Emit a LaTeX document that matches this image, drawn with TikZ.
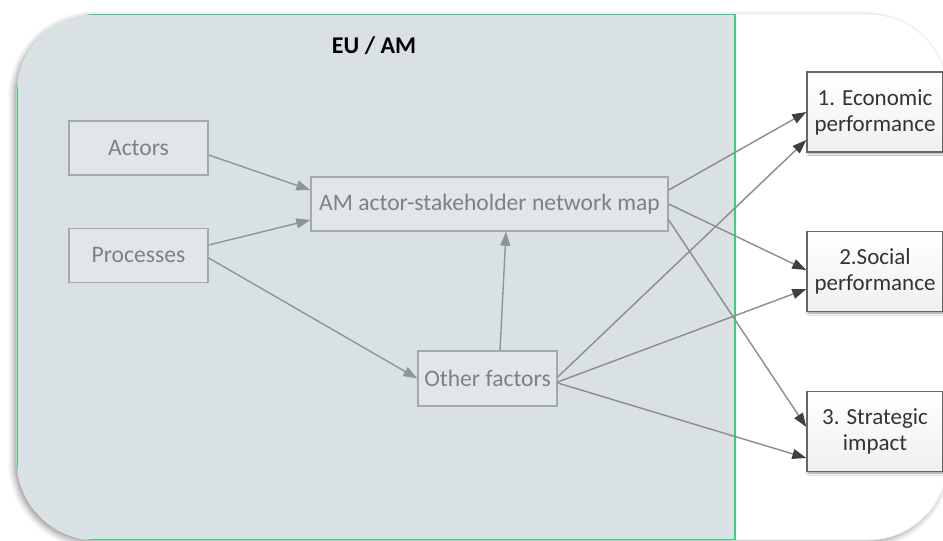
\documentclass[tikz,border=0pt]{standalone}
\usepackage{fontspec}
\setmainfont{Carlito}
\usetikzlibrary{arrows.meta,shadows.blur}
\definecolor{panelfill}{HTML}{D9E1E4}
\definecolor{panelline}{HTML}{3CCF80}
\definecolor{boxline}{HTML}{A3AAAD}
\definecolor{boxtext}{HTML}{7B8285}
\definecolor{linkgray}{HTML}{8E9598}
\definecolor{outgray}{HTML}{8C8C8C}
\definecolor{outhead}{HTML}{404040}
\tikzset{
  inbox/.style={draw=boxline, line width=0.7pt, fill=panelfill!80!white,
    text=boxtext, font=\fontsize{11.8}{14}\selectfont,
    minimum width=69.5pt, minimum height=27pt, inner sep=2pt},
  outbox/.style={draw=outhead!80, line width=0.7pt, top color=white, bottom color=gray!12,
    text=black!80, font=\fontsize{11.5}{13}\selectfont, align=center,
    minimum width=68pt, minimum height=40pt, inner sep=2pt,
    blur shadow={shadow xshift=0.8pt, shadow yshift=-0.8pt, shadow blur radius=1pt}},
  inlink/.style={draw=linkgray, line width=0.7pt,
    -{Triangle[length=7pt,width=5pt,fill=linkgray]}},
  outlink/.style={draw=outgray, line width=0.7pt,
    -{Triangle[length=7pt,width=5pt,fill=outhead,color=outhead]}}
}

\begin{document}
\begin{tikzpicture}[x=0.5pt, y=-0.5pt]
  \useasboundingbox (0,0) rectangle (943,541);

  % The frame
  \path[fill=white, draw=gray!15, rounded corners=40pt,
    blur shadow={shadow xshift=-1.5pt, shadow yshift=-1.5pt, shadow blur radius=3pt}]
    (17,14) rectangle (948,540);
  \begin{scope}
    \clip[rounded corners=40pt] (17,14) rectangle (948,540);
    \fill[panelfill] (17,14) rectangle (735,540);
    \draw[panelline, line width=1pt] (17,14) rectangle (735,540);
  \end{scope}
  \node[font=\bfseries\fontsize{12}{14}\selectfont] (title) at (374,46) {EU / AM};

  % Inside EU / AM
  \node[inbox] (actors) at (138.5,148) {Actors};
  \node[inbox] (processes) at (138.5,255.5) {Processes};
  \node[inbox, minimum width=178.5pt] (netmap) at (489.5,204) {AM actor-stakeholder network map};
  \node[inbox, minimum height=27.5pt] (other) at (487.5,378.5) {Other factors};

  % The outcomes
  \node[outbox] (econ) at (875,112) {1. Economic\\performance};
  \node[outbox] (social) at (875,271.5) {2.Social\\performance};
  \node[outbox] (strat) at (875,431.5) {3. Strategic\\impact};

  % Links
  \draw[inlink] ([yshift=-3.5pt]actors.east) -- ([yshift=7pt]netmap.west);
  \draw[inlink] ([yshift=5.25pt]processes.east) -- ([yshift=-8pt]netmap.west);
  \draw[inlink] ([yshift=-1.25pt]processes.east) -- (other.west);
  \draw[inlink] ([xshift=6.25pt]other.north) -- ([xshift=8.25pt]netmap.south);

  \draw[outlink] ([yshift=7pt]netmap.east) -- (econ.west);
  \draw[outlink] (netmap.east) -- ([yshift=0.75pt]social.west);
  \draw[outlink] ([yshift=-8pt]netmap.east) -- ([yshift=2.25pt]strat.west);
  \draw[outlink] ([yshift=0.75pt]other.east) -- ([yshift=-14pt]econ.west);
  \draw[outlink] ([yshift=-1.75pt]other.east) -- ([yshift=-8.75pt]social.west);
  \draw[outlink] ([yshift=-2.25pt]other.east) -- ([yshift=-13.25pt]strat.west);
\end{tikzpicture}
\end{document}
